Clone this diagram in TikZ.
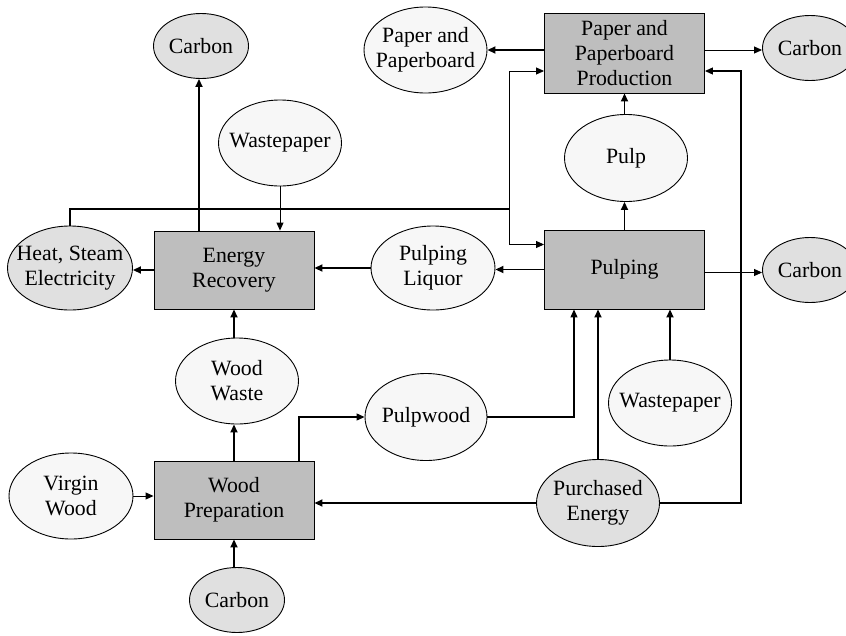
\documentclass[tikz,border=0pt]{standalone}
\usepackage{fontspec}
\setmainfont{Liberation Serif}
\usetikzlibrary{shapes.geometric,arrows.meta}
\definecolor{boxgray}{RGB}{190,190,190}
\definecolor{darkell}{RGB}{224,224,224}
\definecolor{lightell}{RGB}{247,247,247}
\tikzset{
  every node/.style={font=\fontsize{21.8}{25}\selectfont, align=center},
  procbox/.style={draw, line width=0.9pt, fill=boxgray, rectangle, minimum width=160pt, minimum height=79pt, inner sep=0pt},
  ellbase/.style={draw, line width=0.9pt, ellipse, inner sep=-40pt, minimum width=123pt, minimum height=86pt},
  lightell/.style={ellbase, fill=lightell},
  darkell/.style={ellbase, fill=darkell},
  carbonell/.style={ellbase, fill=darkell, minimum width=95pt, minimum height=65pt},
  thickarr/.style={line width=1.7pt, -{Triangle[length=8pt,width=7pt]}},
  thinarr/.style={line width=0.9pt, -{Triangle[length=8pt,width=7pt]}},
  midarr/.style={line width=1.2pt, -{Triangle[length=8pt,width=7pt]}},
}
\begin{document}
\begin{tikzpicture}[x=1pt,y=-1pt]
\useasboundingbox (0,0) rectangle (846,635);
\clip (0,0) rectangle (846,635);
% nodes
\node[carbonell] (carbonTL) at (201,46) {Carbon};
\node[lightell] (wasteTop) at (280,143) {Wastepaper};
\node[lightell] (paperE) at (425.5,50) {Paper and\\Paperboard};
\node[procbox, minimum height=80pt] (paperBox) at (624.5,53) {Paper and\\Paperboard\\Production};
\node[carbonell] (carbonTR) at (810,48) {Carbon};
\node[lightell, minimum height=87pt] (pulp) at (626,158) {Pulp};
\node[darkell, minimum width=125pt, minimum height=84pt] (heat) at (70,268) {Heat, Steam\\Electricity};
\node[procbox, minimum height=78pt] (energy) at (234,270) {Energy\\Recovery};
\node[lightell, minimum width=124pt, minimum height=84pt] (liquor) at (433,268) {Pulping\\Liquor};
\node[procbox] (pulping) at (624.5,269.5) {Pulping};
\node[carbonell] (carbonR) at (810,270) {Carbon};
\node[lightell] (woodWaste) at (237,381) {Wood\\Waste};
\node[lightell, minimum width=122pt, minimum height=87pt] (pulpwood) at (426,417) {Pulpwood};
\node[lightell] (wasteR) at (670,403) {Wastepaper};
\node[lightell, minimum width=124pt] (virgin) at (71,496) {Virgin\\Wood};
\node[procbox, minimum height=78pt] (woodPrep) at (234,500) {Wood\\Preparation};
\node[carbonell] (carbonB) at (237,600) {Carbon};
\node[darkell, minimum height=87pt] (purchased) at (598,503) {Purchased\\Energy};
% helper coordinates
\coordinate (j1) at (509,209);
\coordinate (rc) at (741,71);
% connectors
\draw[thickarr] ([xshift=-35pt]energy.north) -- ([xshift=-35pt]energy.north |- carbonTL.south);
\draw[thinarr] (wasteTop.south) -- (wasteTop.south |- energy.north);
\draw[line width=1.7pt] (heat.north) |- (j1);
\draw[thinarr] (j1) |- ([yshift=-18pt]paperBox.west);
\draw[thinarr] (j1) |- ([yshift=25pt]pulping.west);
\draw[thickarr] (energy.west) -- (energy.west -| heat.east);
\draw[thickarr] (liquor.west) -- (liquor.west -| energy.east);
\draw[thickarr] (pulping.west) -- (pulping.west -| liquor.east);
\draw[thinarr] ([yshift=-3pt]pulping.east) -- ([yshift=-3pt]pulping.east -| carbonR.west);
\draw[thickarr] (pulping.north) -- (pulping.north |- pulp.south);
\draw[thickarr] (paperBox.south |- pulp.north) -- (paperBox.south);
\draw[thickarr] ([yshift=3pt]paperBox.west) -- ([yshift=3pt]paperBox.west -| paperE.east);
\draw[thinarr] ([yshift=3pt]paperBox.east) -- ([yshift=3pt]paperBox.east -| carbonTR.west);
\draw[thickarr] (energy.south |- woodWaste.north) -- (energy.south);
\draw[thickarr] (woodPrep.north) -- (woodPrep.north |- woodWaste.south);
\draw[thickarr] (woodPrep.south |- carbonB.north) -- (woodPrep.south);
\draw[thinarr] (virgin.east) -- (virgin.east -| woodPrep.west);
\draw[midarr] ([xshift=65pt]woodPrep.north) |- (pulpwood.west);
\draw[midarr] (pulpwood.east) -| ([xshift=-50.5pt]pulping.south);
\draw[thickarr] (purchased.west) -- (purchased.west -| woodPrep.east);
\draw[thickarr] (purchased.north) -- (purchased.north |- pulping.south);
\draw[thickarr] (wasteR.north) -- (wasteR.north |- pulping.south);
\draw[midarr] (purchased.east) -| (rc) -- ([yshift=-18pt]paperBox.east);
\end{tikzpicture}
\end{document}
